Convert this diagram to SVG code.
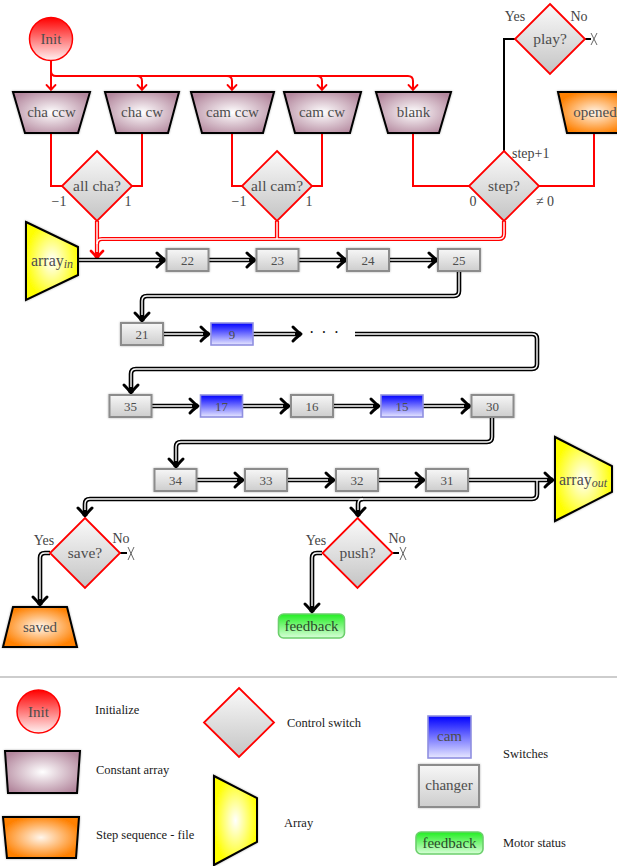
<svg xmlns="http://www.w3.org/2000/svg" width="617" height="866" viewBox="0 0 617 866" font-family="'Liberation Serif', 'DejaVu Serif', serif">
<style>
text{font-family:"Liberation Serif","Times New Roman","DejaVu Serif",serif}
.nt{font-size:15px;fill:#4d4d4d;text-anchor:middle}
.dt{font-size:15.5px;fill:#4d4d4d;text-anchor:middle}
.bt{font-size:13px;fill:#4d4d4d;text-anchor:middle}
.lb{font-size:14px;fill:#444;text-anchor:middle}
.lg{font-size:12.5px;fill:#1a1a1a}
.trap{stroke:#000;stroke-width:2;filter:url(#sh)}
.dia{fill:url(#gDia);stroke:#f00;stroke-width:1.8}
.box{fill:url(#gBox);stroke:#8c8c8c;stroke-width:2;filter:url(#sh)}
.blue{fill:url(#gBlue);stroke:#8f8fe0;stroke-width:1.6}
.green{fill:url(#gGreen);stroke:#6ccf6c;stroke-width:1.6}
.init{fill:url(#gInit);stroke:#f00;stroke-width:1.5}
.rl{fill:none;stroke:#f00;stroke-width:2}
.ro{fill:none;stroke:#f00;stroke-width:4.2}
.wi{fill:none;stroke:#fff;stroke-width:1.4}
.bo{fill:none;stroke:#000;stroke-width:4.6}
.bl{fill:none;stroke:#000;stroke-width:2}
.xm{stroke:#666;stroke-width:1;fill:none}
</style>
<defs>
<filter id="sh" x="-20%" y="-20%" width="140%" height="140%"><feDropShadow dx="0" dy="0" stdDeviation="1.2" flood-color="#000" flood-opacity="0.3"/></filter>
<linearGradient id="gInit" x1="0" y1="0" x2="0" y2="1"><stop offset="0" stop-color="#ff0000"/><stop offset="1" stop-color="#fff2f2"/></linearGradient>
<linearGradient id="gDia" x1="0" y1="0" x2="0" y2="1"><stop offset="0" stop-color="#fafafa"/><stop offset="1" stop-color="#c4c4c4"/></linearGradient>
<linearGradient id="gBox" x1="0" y1="0" x2="0" y2="1"><stop offset="0" stop-color="#f7f7f7"/><stop offset="1" stop-color="#cdcdcd"/></linearGradient>
<linearGradient id="gBlue" x1="0" y1="0" x2="0" y2="1"><stop offset="0" stop-color="#0000ff"/><stop offset="1" stop-color="#e8e8ff"/></linearGradient>
<linearGradient id="gGreen" x1="0" y1="0" x2="0" y2="1"><stop offset="0" stop-color="#22ee22"/><stop offset="1" stop-color="#d8ffd8"/></linearGradient>
<radialGradient id="rMauve" cx="0.5" cy="0.5" r="0.6"><stop offset="0" stop-color="#ffffff"/><stop offset="1" stop-color="#b3879d"/></radialGradient>
<radialGradient id="rOrange" cx="0.5" cy="0.5" r="0.6"><stop offset="0" stop-color="#fff6ec"/><stop offset="0.9" stop-color="#ff8000"/></radialGradient>
<radialGradient id="rYellow" cx="0.5" cy="0.5" r="0.6"><stop offset="0" stop-color="#ffffff"/><stop offset="0.85" stop-color="#ffff00"/></radialGradient>
<marker id="ab" markerUnits="userSpaceOnUse" viewBox="-12 -10 16 20" markerWidth="16" markerHeight="20" refX="0" refY="0" orient="auto" overflow="visible"><path d="M-8,-7 Q-3,-2 0,0 Q-3,2 -8,7" fill="none" stroke="#000" stroke-width="3" stroke-linecap="round" stroke-linejoin="round"/></marker>
<marker id="ar2" markerUnits="userSpaceOnUse" viewBox="-12 -10 16 20" markerWidth="16" markerHeight="20" refX="0" refY="0" orient="auto" overflow="visible"><path d="M-7,-6 Q-3,-2 0,0 Q-3,2 -7,6" fill="none" stroke="#f00" stroke-width="2.6" stroke-linecap="round" stroke-linejoin="round"/></marker>
<marker id="ar" markerUnits="userSpaceOnUse" viewBox="-10 -8 12 16" markerWidth="12" markerHeight="16" refX="0" refY="0" orient="auto" overflow="visible"><path d="M-5,-4.5 Q-2,-1.5 0,0 Q-2,1.5 -5,4.5" fill="none" stroke="#f00" stroke-width="1.8" stroke-linecap="round" stroke-linejoin="round"/></marker>
</defs>
<rect width="617" height="866" fill="#fff"/>

<g id="connectors">
  <path class="rl" d="M51,61 V90" marker-end="url(#ar)"/>
  <path class="rl" d="M51,71 Q51,76 56,76 H408 Q413,76 413,81 V90" marker-end="url(#ar)"/>
  <path class="rl" d="M137,76 Q142,76 142,81 V90" marker-end="url(#ar)"/>
  <path class="rl" d="M227,76 Q232,76 232,81 V90" marker-end="url(#ar)"/>
  <path class="rl" d="M317,76 Q322,76 322,81 V90" marker-end="url(#ar)"/>
  <path class="rl" d="M51,133 V186 H63"/>
  <path class="rl" d="M142,133 V186 H131"/>
  <path class="rl" d="M232,133 V186 H243"/>
  <path class="rl" d="M322,133 V186 H311"/>
  <path class="rl" d="M413,133 V186 H469"/>
  <path class="rl" d="M594,133 V186 H539"/>
  <path class="bl" d="M504,152 V39 H515"/>
  <path class="bl" d="M585,39 H591"/>
  <path class="bl" d="M120,553 H127"/>
  <path class="bl" d="M392,553 H399"/>
  <path class="xm" d="M591,33 L597,45 M597,33 L591,45"/>
  <path class="xm" d="M128,547 L134,560 M134,547 L128,560"/>
  <path class="xm" d="M400,547 L406,560 M406,547 L400,560"/>
  <path class="ro" d="M504,221 V234 Q504,239 499,239 H102 Q97,239 97,244 V258" marker-end="url(#ar2)"/>
  <path class="ro" d="M97,221 V244"/>
  <path class="ro" d="M277,221 V239"/>
  <path class="wi" d="M504,221 V234 Q504,239 499,239 H102 Q97,239 97,244 V252"/>
  <path class="wi" d="M97,221 V244"/>
  <path class="wi" d="M277,221 V239"/>
  <path class="bo" d="M78,260 H165" marker-end="url(#ab)"/>
  <path class="bo" d="M208,260 H255" marker-end="url(#ab)"/>
  <path class="bo" d="M298,260 H346" marker-end="url(#ab)"/>
  <path class="bo" d="M389,260 H437" marker-end="url(#ab)"/>
  <path class="bo" d="M459,271 V291 Q459,296 454,296 H147 Q142,296 142,301 V321" marker-end="url(#ab)"/>
  <path class="bo" d="M163,334 H209" marker-end="url(#ab)"/>
  <path class="bo" d="M253,334 H301" marker-end="url(#ab)"/>
  <path class="bo" d="M355,334 H532 Q537,334 537,339 V364 Q537,369 532,369 H136 Q131,369 131,374 V393" marker-end="url(#ab)"/>
  <path class="bo" d="M152,406 H198" marker-end="url(#ab)"/>
  <path class="bo" d="M243,406 H289" marker-end="url(#ab)"/>
  <path class="bo" d="M333,406 H379" marker-end="url(#ab)"/>
  <path class="bo" d="M423,406 H470" marker-end="url(#ab)"/>
  <path class="bo" d="M492,417 V437 Q492,442 487,442 H181 Q176,442 176,447 V467" marker-end="url(#ab)"/>
  <path class="bo" d="M197,480 H243" marker-end="url(#ab)"/>
  <path class="bo" d="M287,480 H334" marker-end="url(#ab)"/>
  <path class="bo" d="M378,480 H424" marker-end="url(#ab)"/>
  <path class="bo" d="M468,480 H553" marker-end="url(#ab)"/>
  <path class="bo" d="M537,480 V494 Q537,499 532,499 H90 Q85,499 85,504 V516" marker-end="url(#ab)"/>
  <path class="bo" d="M363,499 Q358,499 358,504 V516" marker-end="url(#ab)"/>
  <path class="bo" d="M50,553 H45 Q40,553 40,558 V605" marker-end="url(#ab)"/>
  <path class="bo" d="M322,553 H317 Q312,553 312,558 V612" marker-end="url(#ab)"/>
  <path class="wi" d="M78,260 H159"/>
  <path class="wi" d="M208,260 H249"/>
  <path class="wi" d="M298,260 H340"/>
  <path class="wi" d="M389,260 H431"/>
  <path class="wi" d="M459,271 V291 Q459,296 454,296 H147 Q142,296 142,301 V315"/>
  <path class="wi" d="M163,334 H203"/>
  <path class="wi" d="M253,334 H295"/>
  <path class="wi" d="M355,334 H532 Q537,334 537,339 V364 Q537,369 532,369 H136 Q131,369 131,374 V387"/>
  <path class="wi" d="M152,406 H192"/>
  <path class="wi" d="M243,406 H283"/>
  <path class="wi" d="M333,406 H373"/>
  <path class="wi" d="M423,406 H464"/>
  <path class="wi" d="M492,417 V437 Q492,442 487,442 H181 Q176,442 176,447 V461"/>
  <path class="wi" d="M197,480 H237"/>
  <path class="wi" d="M287,480 H328"/>
  <path class="wi" d="M378,480 H418"/>
  <path class="wi" d="M468,480 H547"/>
  <path class="wi" d="M537,480 V494 Q537,499 532,499 H90 Q85,499 85,504 V510"/>
  <path class="wi" d="M363,499 Q358,499 358,504 V510"/>
  <path class="wi" d="M50,553 H45 Q40,553 40,558 V599"/>
  <path class="wi" d="M322,553 H317 Q312,553 312,558 V606"/>
</g>

<g id="init"><circle class="init" cx="51" cy="39" r="21.5"/><text class="nt" x="51" y="44">Init</text></g>

<g id="cha_ccw"><polygon class="trap" fill="url(#rMauve)" points="13,92 90,92 78,133 25,133"/><text class="nt" x="51.5" y="117">cha ccw</text></g>
<g id="cha_cw"><polygon class="trap" fill="url(#rMauve)" points="105,92 179,92 168,133 116,133"/><text class="nt" x="142" y="117">cha cw</text></g>
<g id="cam_ccw"><polygon class="trap" fill="url(#rMauve)" points="191,92 274,92 263,133 202,133"/><text class="nt" x="232.5" y="117">cam ccw</text></g>
<g id="cam_cw"><polygon class="trap" fill="url(#rMauve)" points="284,92 361,92 350,133 295,133"/><text class="nt" x="322" y="117">cam cw</text></g>
<g id="blank"><polygon class="trap" fill="url(#rMauve)" points="376,92 451,92 439,133 388,133"/><text class="nt" x="413.5" y="117">blank</text></g>
<g id="opened"><polygon class="trap" fill="url(#rOrange)" points="558,92 631,92 621,133 567,133"/><text class="nt" x="595" y="117">opened</text></g>

<g id="play"><polygon class="dia" points="550,4 585,39 550,74 515,39"/><text class="dt" x="550" y="44">play?</text>
<text class="lb" x="515" y="20.5">Yes</text><text class="lb" x="579" y="20.5">No</text></g>

<g id="all_cha"><polygon class="dia" points="97,151 132,186 97,221 62,186"/><text class="dt" x="97" y="191">all cha?</text>
<text class="lb" x="59" y="206">−1</text><text class="lb" x="128" y="206">1</text></g>
<g id="all_cam"><polygon class="dia" points="277,151 312,186 277,221 242,186"/><text class="dt" x="277" y="191">all cam?</text>
<text class="lb" x="239" y="206">−1</text><text class="lb" x="309" y="206">1</text></g>
<g id="step"><polygon class="dia" points="504,151 539,186 504,221 469,186"/><text class="dt" x="504" y="191">step?</text>
<text class="lb" x="473" y="206">0</text><text class="lb" x="545" y="206">≠ 0</text><text class="lb" x="512" y="158" style="text-anchor:start">step+1</text></g>

<g id="array_in"><polygon class="trap" fill="url(#rYellow)" points="26,222 78,247 78,275 26,300"/><text x="52" y="266" style="font-size:16px;fill:#4d4d4d;text-anchor:middle">array<tspan font-style="italic" font-size="12" dy="2">in</tspan></text></g>

<g id="n22"><rect class="box" x="166.5" y="249" width="42" height="22"/><text class="bt" x="187.5" y="264.5">22</text></g>
<g id="n23"><rect class="box" x="256.5" y="249" width="42" height="22"/><text class="bt" x="277.5" y="264.5">23</text></g>
<g id="n24"><rect class="box" x="347" y="249" width="42" height="22"/><text class="bt" x="368" y="264.5">24</text></g>
<g id="n25"><rect class="box" x="438" y="249" width="42" height="22"/><text class="bt" x="459" y="264.5">25</text></g>

<g id="n21"><rect class="box" x="121" y="323" width="42" height="22"/><text class="bt" x="142" y="338.5">21</text></g>
<g id="n9"><rect class="blue" x="211" y="323" width="42" height="22"/><text class="bt" x="232" y="338.5">9</text></g>
<g id="dots"><text x="324" y="338" style="font-size:16px;fill:#111;text-anchor:middle;word-spacing:3px">· · ·</text></g>

<g id="n35"><rect class="box" x="109.5" y="395" width="42" height="22"/><text class="bt" x="130.5" y="410.5">35</text></g>
<g id="n17"><rect class="blue" x="200.5" y="395" width="42" height="22"/><text class="bt" x="221.5" y="410.5">17</text></g>
<g id="n16"><rect class="box" x="291" y="395" width="42" height="22"/><text class="bt" x="312" y="410.5">16</text></g>
<g id="n15"><rect class="blue" x="381" y="395" width="42" height="22"/><text class="bt" x="402" y="410.5">15</text></g>
<g id="n30"><rect class="box" x="471.5" y="395" width="42" height="22"/><text class="bt" x="492.5" y="410.5">30</text></g>

<g id="n34"><rect class="box" x="154.5" y="469" width="42" height="22"/><text class="bt" x="175.5" y="484.5">34</text></g>
<g id="n33"><rect class="box" x="245" y="469" width="42" height="22"/><text class="bt" x="266" y="484.5">33</text></g>
<g id="n32"><rect class="box" x="336" y="469" width="42" height="22"/><text class="bt" x="357" y="484.5">32</text></g>
<g id="n31"><rect class="box" x="426" y="469" width="42" height="22"/><text class="bt" x="447" y="484.5">31</text></g>

<g id="array_out"><polygon class="trap" fill="url(#rYellow)" points="555,437 612,466 612,492 555,521"/><text x="583" y="485" style="font-size:16px;fill:#4d4d4d;text-anchor:middle">array<tspan font-style="italic" font-size="12" dy="2">out</tspan></text></g>

<g id="save"><polygon class="dia" points="85,518 120,553 85,588 50,553"/><text class="dt" x="85" y="558">save?</text>
<text class="lb" x="44" y="545">Yes</text><text class="lb" x="121" y="543">No</text></g>
<g id="push"><polygon class="dia" points="357.5,518 392.5,553 357.5,588 322.5,553"/><text class="dt" x="357.5" y="558">push?</text>
<text class="lb" x="316" y="545">Yes</text><text class="lb" x="397" y="543">No</text></g>

<g id="saved"><polygon class="trap" fill="url(#rOrange)" points="13,607 67,607 77,647 3,647"/><text class="nt" x="40" y="632">saved</text></g>
<g id="feedback"><rect class="green" x="278.5" y="614" width="66" height="24" rx="5"/><text class="nt" x="311.5" y="631" style="fill:#2a4a2a">feedback</text></g>

<g id="legend">
<line x1="0" y1="677" x2="617" y2="677" stroke="#bdbdbd" stroke-width="1.6"/>
<circle class="init" cx="38.5" cy="711.5" r="21.5"/><text class="nt" x="38.5" y="717">Init</text>
<text class="lg" x="95" y="714">Initialize</text>
<polygon class="trap" fill="url(#rMauve)" points="5,751 80,751 77,793 8,793"/>
<text class="lg" x="96" y="774">Constant array</text>
<polygon class="trap" fill="url(#rOrange)" points="3,817 79,817 76,858 7,858"/>
<text class="lg" x="96" y="839">Step sequence - file</text>
<polygon class="dia" points="239,688 274,722.5 239,757 204,722.5"/>
<text class="lg" x="287" y="727">Control switch</text>
<polygon class="trap" fill="url(#rYellow)" points="214,776 257,798 257,842 214,865"/>
<text class="lg" x="284" y="827">Array</text>
<rect class="blue" x="428" y="716" width="43" height="42"/><text class="nt" x="449.5" y="741">cam</text>
<rect class="box" x="419" y="765" width="60" height="42"/><text class="nt" x="449" y="790">changer</text>
<text class="lg" x="503" y="758">Switches</text>
<rect class="green" x="416" y="832" width="67" height="22" rx="5"/><text class="nt" x="449.5" y="848" style="fill:#2a4a2a">feedback</text>
<text class="lg" x="503" y="847">Motor status</text>
</g>
</svg>
